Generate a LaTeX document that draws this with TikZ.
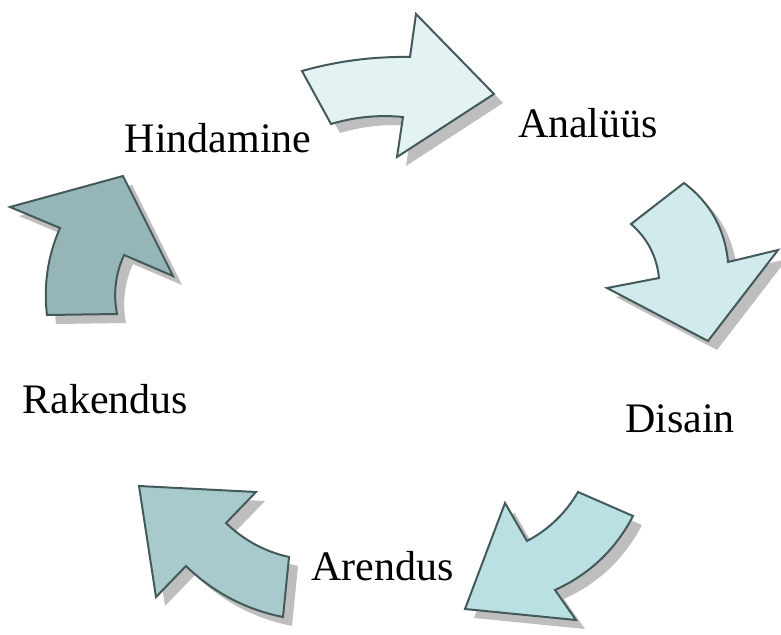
\documentclass[tikz,border=0pt]{standalone}
\usepackage{fontspec}
\setmainfont{Liberation Serif}
\usepackage{xcolor}
\usepackage{tikz}

\definecolor{edgegray}{HTML}{44595A}
\definecolor{shadowgray}{HTML}{BEBEBE}
\definecolor{fillA}{HTML}{E3F3F4}
\definecolor{fillB}{HTML}{D1EAEC}
\definecolor{fillC}{HTML}{BAE0E4}
\definecolor{fillD}{HTML}{A8CACC}
\definecolor{fillE}{HTML}{95B5B7}

% === Arrow outlines (pixel units, y downwards) ===
\newcommand{\arrowA}{(302,71) .. controls (337.3,61) and (373.3,56.4) .. (410,57) -- (416,14)
  -- (494,94) -- (397,157) -- (403,117) .. controls (378.5,114.6) and (354.5,117) .. (331,124)}
\newcommand{\arrowB}{(631,224) -- (684,183) .. controls (710.3,202.8) and (724.9,229.2) .. (728,262)
  -- (778,250) -- (708,341) -- (607,288) -- (659,278) .. controls (656.8,256.3) and (647.4,238.3) .. (631,224)}
\newcommand{\arrowC}{(578,492) -- (633,516) .. controls (615.5,549.6) and (589.5,574.2) .. (555,590)
  -- (576,620) -- (465,609) -- (505,503) -- (527,541) .. controls (548.6,529.6) and (565.6,513.2) .. (578,492)}
\newcommand{\arrowD}{(283,617) -- (289,557) .. controls (264.8,551.6) and (243.8,540.2) .. (226,523)
  -- (256,492) -- (139,486) -- (156,597) -- (186,566) .. controls (213.3,592.5) and (245.7,609.5) .. (283,617)}
\newcommand{\arrowE}{(47,315) -- (117,314) .. controls (113.1,293.5) and (115.5,273.9) .. (124,255)
  -- (173,276) -- (123,176) -- (10,207) -- (60,228) .. controls (47.8,255.8) and (43.4,284.8) .. (47,315)}

\begin{document}
\begin{tikzpicture}[x=1pt, y=-1pt,
  block/.style={draw=edgegray, line width=2pt, line join=miter},
  dropshadow/.style={fill=shadowgray, shift={(9,9)}},
  phase/.style={font=\fontsize{42}{50}\selectfont, anchor=base, inner sep=0pt}]

% === Drawing region ===
\useasboundingbox (0,0) rectangle (781,634);

% === Shadows ===
\fill[dropshadow] \arrowA -- cycle;
\fill[dropshadow] \arrowB -- cycle;
\fill[dropshadow] \arrowC -- cycle;
\fill[dropshadow] \arrowD -- cycle;
\fill[dropshadow] \arrowE -- cycle;

% === Arrows ===
\filldraw[block, fill=fillA] \arrowA -- cycle;
\filldraw[block, fill=fillB] \arrowB -- cycle;
\filldraw[block, fill=fillC] \arrowC -- cycle;
\filldraw[block, fill=fillD] \arrowD -- cycle;
\filldraw[block, fill=fillE] \arrowE -- cycle;

% === Phases ===
\node[phase] (hind) at (218,152) {Hindamine};
\node[phase] (anal) at (588,137) {Analüüs};
\node[phase] (dis) at (680,432) {Disain};
\node[phase] (arend) at (382.5,580) {Arendus};
\node[phase] (rak) at (105.5,413) {Rakendus};

\end{tikzpicture}
\end{document}
